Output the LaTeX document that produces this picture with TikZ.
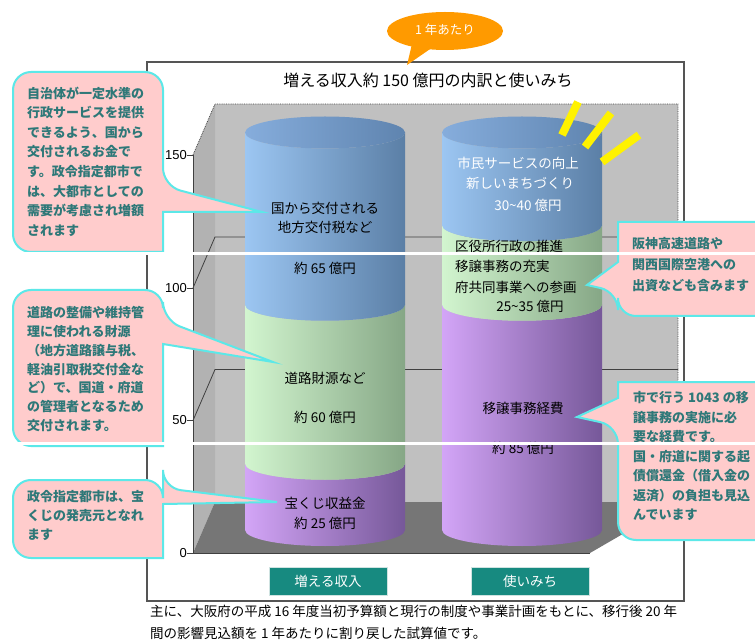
\documentclass[tikz,border=0pt]{standalone}
\usepackage{fontspec}
\setmainfont{Liberation Sans}
\newfontfamily\jpfont{Noto Sans CJK JP}
\usetikzlibrary{positioning,calc}

\definecolor{wallgray}{HTML}{C0C0C0}
\definecolor{sidegray}{HTML}{B2B2B2}
\definecolor{floorgray}{HTML}{767676}
\definecolor{gridgray}{HTML}{404040}
\definecolor{framegray}{HTML}{555555}
\definecolor{callpink}{HTML}{FFCCCC}
\definecolor{callcyan}{HTML}{5CE8E8}
\definecolor{calltxt}{HTML}{2E7878}
\definecolor{btnteal}{HTML}{178A80}
\definecolor{btnedge}{HTML}{CFE3E1}
\definecolor{bubbleorange}{HTML}{FF9A00}
\definecolor{blueL}{HTML}{9CC6F2}
\definecolor{blueR}{HTML}{5B7FA6}
\definecolor{bluetopL}{HTML}{86ADDC}
\definecolor{bluetopR}{HTML}{5F84AF}
\definecolor{greenL}{HTML}{D2F5CF}
\definecolor{greenR}{HTML}{86A786}
\definecolor{purpL}{HTML}{D3A5F7}
\definecolor{purpR}{HTML}{765899}

\tikzset{
  callbox/.style={fill=callpink, draw=callcyan, line width=2pt},
  calltext/.style={text=calltxt, align=left, anchor=north west, inner sep=0pt},
  cyltext/.style={font=\jpfont\fontsize{13.5}{16}\selectfont, inner sep=0pt},
  tickl/.style={font=\fontsize{13}{15}\selectfont, anchor=east, inner sep=0pt},
  btn/.style={fill=btnteal, draw=btnedge, line width=1pt, text=white, minimum width=118pt, minimum height=28pt, inner sep=0pt, font=\jpfont\fontsize{13.5}{16}\selectfont},
  gridline/.style={draw=gridgray, line width=0.8pt}
}

% cx, ytop, ybot, left colour, right colour
\newcommand{\cylseg}[5]{%
  \shade[left color=#4, right color=#5] (#1-80,#2) -- (#1-80,#3)
    arc[start angle=180, end angle=360, x radius=80pt, y radius=16pt]
    -- (#1+80,#2)
    arc[start angle=360, end angle=180, x radius=80pt, y radius=16pt] -- cycle;}

% x0, y0, x1, y1, tail top, tail bottom, tip (tail on the right side)
\newcommand{\calloutR}[7]{%
  \draw[callbox] ({(#1+#3)/2},#2) [rounded corners=18pt] -- (#3,#2) -- (#3,#5) [sharp corners]
    -- (#7) -- (#3,#6) -- (#3,#4) [rounded corners=18pt] -- (#1,#4) -- (#1,#2) -- cycle;}
% same, tail on the left side
\newcommand{\calloutL}[7]{%
  \draw[callbox] ({(#1+#3)/2},#4) [rounded corners=18pt] -- (#1,#4) -- (#1,#6) [sharp corners]
    -- (#7) -- (#1,#5) -- (#1,#2) [rounded corners=18pt] -- (#3,#2) -- (#3,#4) -- cycle;}

\begin{document}
\begin{tikzpicture}[x=1pt,y=-1pt]
    \useasboundingbox (0,0) rectangle (755,644);
    \fill[white] (0,0) rectangle (755,644);

    \draw[framegray, line width=1.2pt] (147,62) rectangle (684,601);
    \node[font=\jpfont\fontsize{16}{18}\selectfont] (title) at (428,80) {増える収入約 150 億円の内訳と使いみち};

    % walls and floor
    \fill[wallgray] (215,104) rectangle (678,502);
    \fill[sidegray] (193,155) -- (215,104) -- (215,502) -- (193,553) -- cycle;
    \fill[floorgray] (215,502) -- (678,502) -- (590,553) -- (193,553) -- cycle;
    \foreach \v in {50,100} {
        \draw[gridline] (193,{553-2.65*\v}) -- (215,{502-2.65*\v}) -- (678,{502-2.65*\v});
    }
    \draw[gridline, densely dotted] (193,155) -- (215,104) -- (678,104) -- (678,502);
    \draw[gridline] (193,155) -- (193,553) -- (590,553);
    \foreach \v in {0,50,100,150} {
        \draw[gridline] (187,{553-2.65*\v}) -- (193,{553-2.65*\v});
        \node[tickl] (tick\v) at (187,{553-2.65*\v}) {\v};
    }

    % left cylinder: 25 / 60 / 65
    \cylseg{325}{463.75}{530}{purpL}{purpR}
    \cylseg{325}{304.75}{463.75}{greenL}{greenR}
    \cylseg{325}{132.5}{304.75}{blueL}{blueR}
    \shade[left color=bluetopL, right color=bluetopR] (325,132.5) ellipse[x radius=80pt, y radius=16pt];

    % right cylinder: 85 / 30 / 35
    \cylseg{522}{304.75}{530}{purpL}{purpR}
    \cylseg{522}{225.25}{304.75}{greenL}{greenR}
    \cylseg{522}{132.5}{225.25}{blueL}{blueR}
    \shade[left color=bluetopL, right color=bluetopR] (522,132.5) ellipse[x radius=80pt, y radius=16pt];

    \node[cyltext] (lb1) at (325,208) {国から交付される};
    \node[cyltext] (lb2) at (325,227) {地方交付税など};
    \node[cyltext] (lb3) at (325,268) {約 65 億円};
    \node[cyltext] (lg1) at (325,378) {道路財源など};
    \node[cyltext] (lg2) at (325,417) {約 60 億円};
    \node[cyltext] (lp1) at (325,503) {宝くじ収益金};
    \node[cyltext] (lp2) at (325,523) {約 25 億円};

    \node[cyltext, text=white] (rb1) at (518,163) {市民サービスの向上};
    \node[cyltext, text=white] (rb2) at (520,183) {新しいまちづくり};
    \node[cyltext, text=white] (rb3) at (528,205) {30\textasciitilde40 億円};
    \node[cyltext, anchor=west] (rg1) at (455,246) {区役所行政の推進};
    \node[cyltext, anchor=west] (rg2) at (455,266) {移譲事務の充実};
    \node[cyltext, anchor=west] (rg3) at (455,287) {府共同事業への参画};
    \node[cyltext] (rg4) at (530,306) {25\textasciitilde35 億円};
    \node[cyltext] (rp1) at (523,408) {移譲事務経費};
    \node[cyltext] (rp2) at (523,448) {約 85 億円};

    % rays
    \draw[yellow, line width=8pt] (562,135) -- (578,102);
    \draw[yellow, line width=8pt] (585,147) -- (611,113);
    \draw[yellow, line width=8pt] (602,162) -- (639,135);

    % callouts
    \coordinate (tip1) at (262,212);
    \coordinate (tip2) at (273,362);
    \coordinate (tip3) at (277,502);
    \coordinate (tip4) at (587,285);
    \coordinate (tip5) at (577,417);
    \calloutR{13}{72}{163}{252}{186}{212}{tip1}
    \calloutR{13}{290}{163}{446}{320}{344}{tip2}
    \calloutR{13}{480}{163}{558}{488}{504}{tip3}
    \calloutL{618}{222}{775}{316}{262}{292}{tip4}
    \calloutL{618}{382}{775}{540}{398}{426}{tip5}

    \node[calltext, font=\jpfont\bfseries\fontsize{13}{19.6}\selectfont] (c1) at (27,86.5)
        {自治体が一定水準の\\行政サービスを提供\\できるよう、国から\\交付されるお金で\\す。政令指定都市で\\は、大都市としての\\需要が考慮され増額\\されます};
    \node[calltext, font=\jpfont\bfseries\fontsize{13}{18.7}\selectfont] (c2) at (27,306.5)
        {道路の整備や維持管\\理に使われる財源\\（地方道路譲与税、\\軽油引取税交付金な\\ど）で、国道・府道\\の管理者となるため\\交付されます。};
    \node[calltext, font=\jpfont\bfseries\fontsize{13}{19}\selectfont] (c3) at (27,490.5)
        {政令指定都市は、宝\\くじの発売元となれ\\ます};
    \node[calltext, font=\jpfont\bfseries\fontsize{13}{21}\selectfont] (c4) at (632,237.5)
        {阪神高速道路や\\関西国際空港への\\出資なども含みます};
    \node[calltext, font=\jpfont\bfseries\fontsize{13}{19.5}\selectfont] (c5) at (633,391.5)
        {市で行う 1043 の移\\譲事務の実施に必\\要な経費です。\\国・府道に関する起\\債償還金（借入金の\\返済）の負担も見込\\んでいます};

    % buttons and note
    \node[btn] (btnin) at (328,581) {増える収入};
    \node[btn] (btnout) at (530,581) {使いみち};
    \node[font=\jpfont\fontsize{13.5}{16}\selectfont, anchor=west, inner sep=0pt] (note1) at (150,611)
        {主に、大阪府の平成 16 年度当初予算額と現行の制度や事業計画をもとに、移行後 20 年};
    \node[font=\jpfont\fontsize{13.5}{16}\selectfont, anchor=west, inner sep=0pt] (note2) at (150,633)
        {間の影響見込額を 1 年あたりに割り戻した試算値です。};

    % bubble
    \fill[bubbleorange] (412,44) -- (407,65) -- (433,47) -- cycle;
    \fill[bubbleorange] (445,31) ellipse[x radius=58pt, y radius=19pt];
    \node[text=white, font=\jpfont\fontsize{12.5}{14}\selectfont] (bub) at (445,30) {1 年あたり};

    \draw[white, line width=3pt] (0,254) -- (755,254);
    \draw[white, line width=3pt] (0,443) -- (755,443);
\end{tikzpicture}
\end{document}
